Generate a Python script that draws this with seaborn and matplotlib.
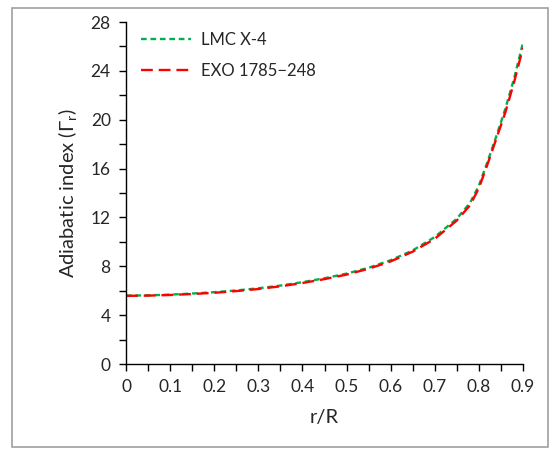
import numpy as np
import pandas as pd
import matplotlib
matplotlib.use("Agg")
import matplotlib.pyplot as plt
import seaborn as sns
from matplotlib.patches import Rectangle
from matplotlib.ticker import MultipleLocator, FuncFormatter

# r/R and adiabatic index
r_R = [0, 0.05, 0.1, 0.15, 0.2, 0.25, 0.3, 0.35, 0.4, 0.45, 0.5, 0.55,
       0.6, 0.65, 0.7, 0.75, 0.78, 0.8, 0.82, 0.84, 0.86, 0.88, 0.9]
gamma_lmc = [5.6, 5.62, 5.68, 5.77, 5.88, 6.02, 6.2, 6.42, 6.7, 7.02, 7.4, 7.88,
             8.5, 9.3, 10.4, 11.9, 13.2, 14.6, 16.6, 18.7, 20.9, 23.4, 26.3]
gamma_exo = [5.58, 5.6, 5.65, 5.73, 5.83, 5.97, 6.14, 6.36, 6.63, 6.95, 7.32, 7.8,
             8.4, 9.2, 10.25, 11.75, 13.0, 14.4, 16.4, 18.5, 20.6, 23.1, 25.9]
series = ["LMC X-4", "EXO 1785\u2212248"]


def main():
    df = pd.DataFrame({
        "r": r_R * 2,
        "gamma": gamma_lmc + gamma_exo,
        "star": [series[0]] * len(r_R) + [series[1]] * len(r_R),
    })

    sns.set_style("ticks")
    plt.rcParams["font.family"] = ["Lato", "DejaVu Sans"]
    plt.rcParams["mathtext.default"] = "regular"

    fig = plt.figure(figsize=(5.55, 4.65), dpi=100)
    fig.patches.append(Rectangle((12 / 555, 1 - 447 / 465), 536 / 555, 439 / 465,
                                 transform=fig.transFigure, fill=False,
                                 edgecolor="#a0a0a0", linewidth=1.2))
    ax = fig.add_axes([126 / 555, 1 - 364 / 465, 397 / 555, 342 / 465])

    sns.lineplot(df, x="r", y="gamma", hue="star", style="star",
                 palette={series[0]: "#00B050", series[1]: "#FF0000"},
                 dashes={series[0]: (2.4, 1.6), series[1]: (5, 2.5)},
                 linewidth=1.7, ax=ax)

    ax.set_xlim(0, 0.9)
    ax.set_ylim(0, 28)
    ax.xaxis.set_major_locator(MultipleLocator(0.1))
    ax.xaxis.set_minor_locator(MultipleLocator(0.05))
    ax.yaxis.set_major_locator(MultipleLocator(4))
    ax.yaxis.set_minor_locator(MultipleLocator(2))
    ax.xaxis.set_major_formatter(FuncFormatter(lambda v, p: "0" if abs(v) < 1e-9 else f"{v:.1f}"))
    ax.tick_params(which="both", direction="out", length=5, width=1, color="black")
    ax.tick_params(labelsize=12.5, pad=6)
    ax.spines[["top", "right"]].set_visible(False)
    for s in ["left", "bottom"]:
        ax.spines[s].set_color("black")
        ax.spines[s].set_linewidth(1)

    ax.set_xlabel("r/R", fontsize=14.5, labelpad=10)
    ax.set_ylabel("Adiabatic index (\u0393$_{r}$)", fontsize=14.5, labelpad=8)

    leg = ax.legend(loc="upper left", frameon=False, fontsize=12,
                    handlelength=3.0, handletextpad=0.6, labelspacing=0.9,
                    bbox_to_anchor=(0.0, 1.015))
    for line in leg.get_lines():
        line.set_linewidth(1.7)

    plt.savefig("out.png", dpi=100)
    plt.close()


if __name__ == "__main__":
    main()
